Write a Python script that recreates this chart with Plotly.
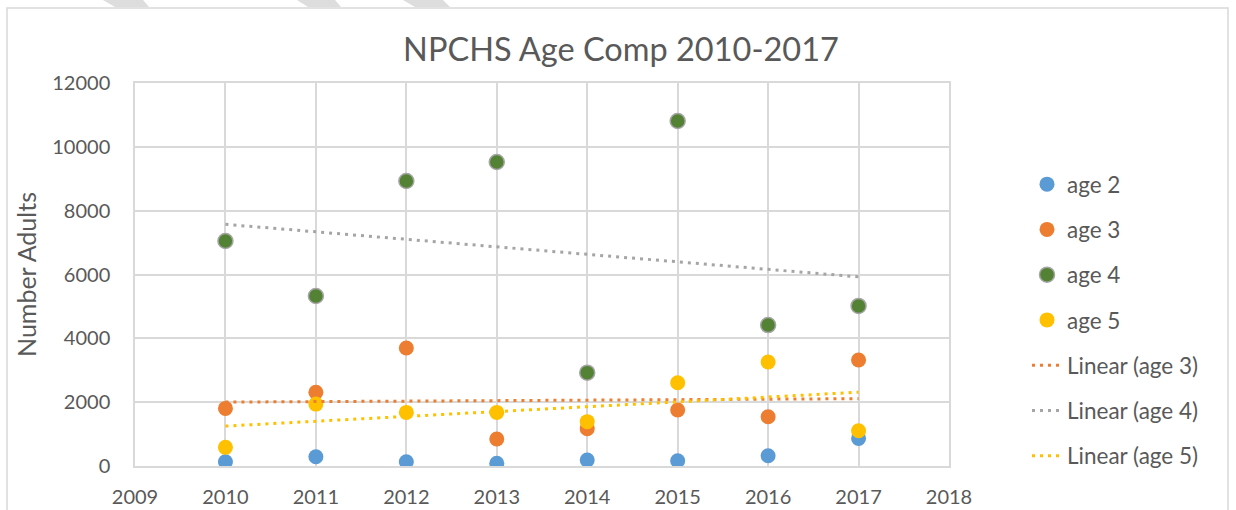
import numpy as np
import plotly.graph_objects as go

years = [2010, 2011, 2012, 2013, 2014, 2015, 2016, 2017]
age2 = [135, 290, 135, 85, 185, 165, 320, 865]
age3 = [1805, 2310, 3695, 845, 1170, 1755, 1545, 3320]
age4 = [7050, 5325, 8930, 9525, 2925, 10810, 4415, 5015]
age5 = [585, 1940, 1680, 1680, 1390, 2610, 3260, 1105]

FONT = "Lato"
GREY_TXT = "#595959"
GRID = "#D9D9D9"

# Plot area in pixels (used only to place decorations around the chart)
L, R, T, B = 135, 949, 83, 466
W, H = 1236, 510


def px_x(x):
    return (x - L) / (R - L)


def px_y(y):
    return (B - y) / (B - T)


def trend(vals):
    slope, icpt = np.polyfit(years, vals, 1)
    xs = [years[0], years[-1]]
    return xs, [slope * x + icpt for x in xs]


fig = go.Figure()

series = [
    ("age 2", age2, "#5B9BD5", None),
    ("age 3", age3, "#ED7D31", None),
    ("age 4", age4, "#548235", "#A5A5A5"),
    ("age 5", age5, "#FFC000", None),
]
for name, vals, col, edge in series:
    fig.add_trace(go.Scatter(
        x=years, y=vals, mode="markers", name=name, legendgroup=name,
        marker=dict(size=15, color=col,
                    line=dict(width=1.5 if edge else 0, color=edge or col)),
    ))

trends = [
    ("Linear (age 3)", age3, "#ED7D31"),
    ("Linear (age 4)", age4, "#A5A5A5"),
    ("Linear (age 5)", age5, "#FFC000"),
]
for name, vals, col in trends:
    tx, ty = trend(vals)
    fig.add_trace(go.Scatter(
        x=tx, y=ty, mode="lines", name=name, legendgroup=name,
        line=dict(color=col, width=3, dash="3px,5px"),
    ))

# chart border and the grey stripes of the page above it
shapes = [dict(type="rect", xref="paper", yref="paper",
               x0=px_x(7), x1=px_x(1228), y0=px_y(530), y1=px_y(8),
               line=dict(color=GRID, width=1.5), layer="below")]
for a, b, c, d in [(103, 143, 149, 115), (297, 335, 341, 308), (403, 443, 450, 415)]:
    path = "M {} {} L {} {} L {} {} L {} {} Z".format(
        px_x(a), px_y(0), px_x(b), px_y(0), px_x(c), px_y(7), px_x(d), px_y(7))
    shapes.append(dict(type="path", xref="paper", yref="paper", path=path,
                       fillcolor="#DDDDDD", line=dict(width=0), layer="below"))

fig.update_layout(
    width=W, height=H,
    margin=dict(l=L, r=W - R, t=T, b=H - B, autoexpand=False),
    paper_bgcolor="white", plot_bgcolor="white",
    font=dict(family=FONT, color=GREY_TXT, size=20),
    title=dict(text="NPCHS Age Comp 2010-2017", x=621 / W, xref="container",
               xanchor="center", y=1 - 50 / H, yref="container", yanchor="middle",
               font=dict(family=FONT, size=32.5, color=GREY_TXT)),
    showlegend=True,
    legend=dict(x=px_x(1027), y=px_y(163), xanchor="left", yanchor="top",
                font=dict(size=22.5, color=GREY_TXT), tracegroupgap=13,
                traceorder="grouped", bgcolor="rgba(0,0,0,0)"),
    shapes=shapes,
)

fig.update_xaxes(
    range=[2009, 2018], dtick=1, tick0=2009, showgrid=True, gridcolor=GRID,
    gridwidth=1.5, showline=True, linecolor=GRID, linewidth=1.5, mirror=True,
    zeroline=False, ticks="outside", ticklen=12, tickcolor="rgba(0,0,0,0)",
    tickfont=dict(size=20, color=GREY_TXT),
)
fig.update_yaxes(
    range=[0, 12000], dtick=2000, tick0=0, tickformat="d", showgrid=True,
    gridcolor=GRID, gridwidth=1.5, showline=True, linecolor=GRID, linewidth=1.5,
    mirror=True, zeroline=False, ticks="outside", ticklen=19,
    tickcolor="rgba(0,0,0,0)", tickfont=dict(size=20, color=GREY_TXT),
    title=dict(text="Number Adults", font=dict(size=25, color=GREY_TXT), standoff=9),
)

# the page body has a default margin; drop it so the chart sits at the window corner
fig.write_html("out.html", config={"displayModeBar": False},
               post_script="document.body.style.margin='0';")
